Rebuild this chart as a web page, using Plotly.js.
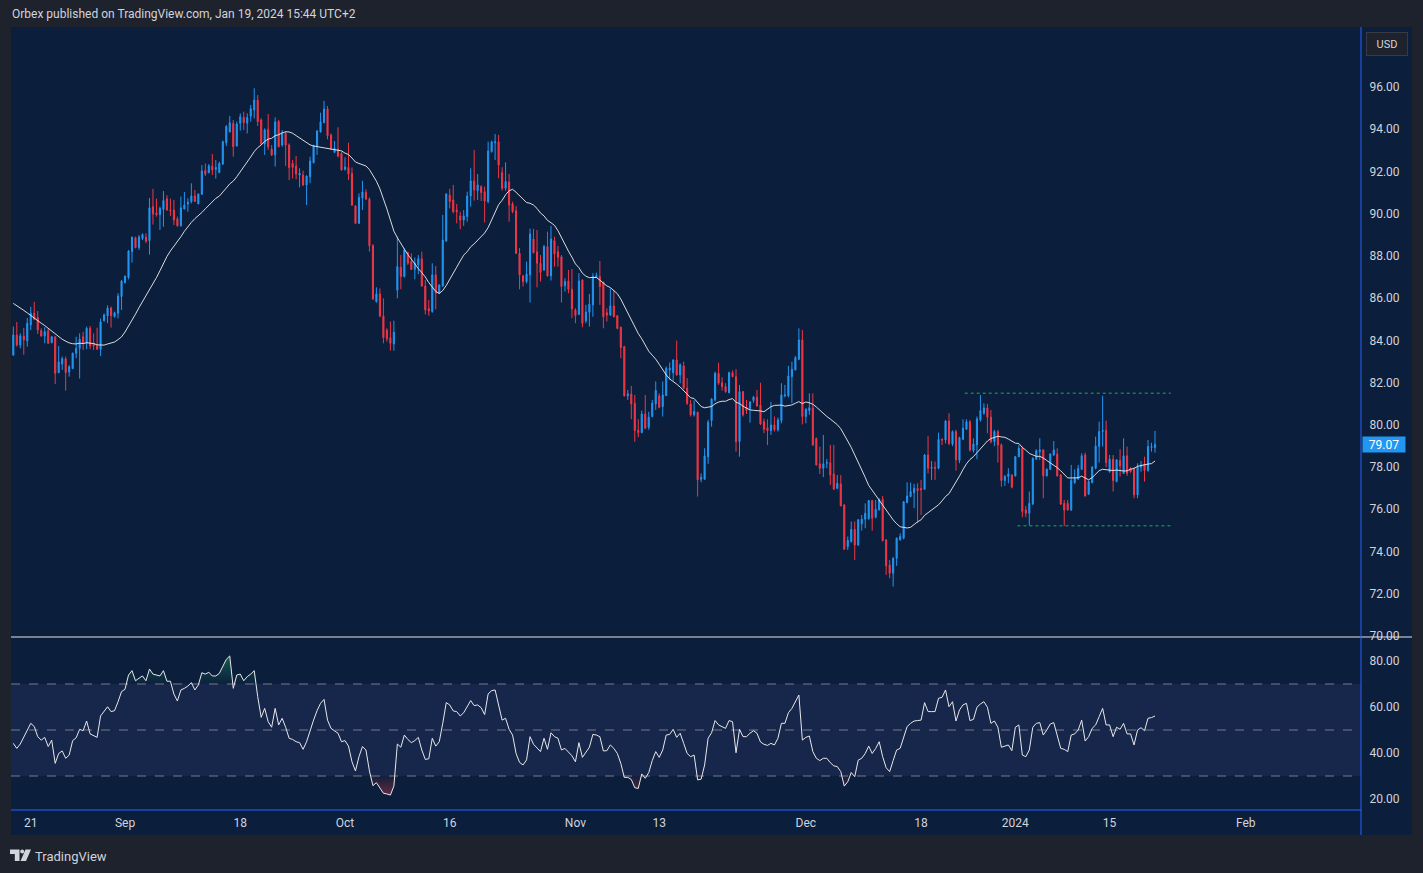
<!DOCTYPE html>
<html><head><meta charset="utf-8">
<script src="https://cdn.plot.ly/plotly-3.0.1.min.js"></script>
<style>html,body{margin:0;padding:0;background:#1e222d;overflow:hidden}#chart{width:1423px;height:873px}</style>
</head><body><div id="chart"></div>
<script>
// ---- data (8h candles, index 0 = first visible candle) ----
const openP = [
83.31,84.25,83.78,84.21,83.97,84.73,85.28,85.08,84.46,84.21,
84.46,83.89,84.17,82.47,82.88,83.13,82.50,82.66,83.39,83.62,
84.17,83.86,84.57,83.86,83.75,83.58,84.93,85.15,85.53,85.12,
85.28,86.07,86.73,86.98,88.20,88.86,88.39,88.82,88.89,88.72,
90.33,90.03,89.95,90.20,90.71,90.17,90.17,89.75,89.43,90.22,
90.46,90.57,90.84,90.46,90.92,92.04,91.94,92.26,92.10,91.94,
92.35,93.36,93.88,94.28,93.20,94.28,94.56,94.28,94.62,94.91,
95.38,94.44,93.30,93.99,93.06,92.78,94.37,93.25,93.80,93.25,
92.38,92.26,91.83,91.83,91.36,91.75,92.41,93.17,93.87,94.31,
94.96,93.72,92.90,93.06,92.86,92.10,92.19,91.91,90.36,89.54,
90.74,91.01,90.69,88.48,85.83,86.20,85.15,84.49,84.13,83.83,
86.38,87.46,87.02,88.15,87.73,87.36,87.57,87.86,86.57,85.50,
85.36,87.10,86.23,86.57,88.70,90.88,90.65,90.17,89.89,89.70,
89.86,90.84,91.55,91.09,91.28,91.04,90.57,92.94,93.36,93.40,
91.94,91.20,91.50,90.46,90.14,88.12,87.05,86.78,87.10,88.80,
88.19,87.65,87.33,88.44,87.05,88.72,88.20,87.96,86.59,86.81,
86.42,85.44,85.23,86.86,84.92,85.33,85.68,86.97,87.02,86.75,
85.31,85.20,85.63,85.16,84.62,83.70,81.37,81.46,81.02,79.73,
79.63,80.51,79.88,80.39,80.99,81.37,80.86,81.38,82.60,82.47,
83.07,82.36,82.79,81.73,80.99,80.47,80.59,77.42,77.42,78.49,
80.20,81.18,82.44,81.99,81.81,81.52,82.47,82.28,79.20,81.57,
80.83,80.78,81.15,81.31,80.94,80.15,79.86,79.72,79.99,79.76,
80.20,81.37,81.37,82.28,82.60,83.10,84.02,80.39,80.67,80.81,
79.36,78.15,77.94,78.18,78.21,77.67,76.99,77.20,76.20,74.23,
74.47,75.05,74.31,75.31,75.53,75.55,76.41,75.62,75.97,76.47,
74.55,73.36,72.97,73.68,74.55,74.63,76.32,76.60,76.79,76.99,
76.99,76.95,78.57,77.94,77.99,77.94,79.31,79.28,80.18,79.09,
79.68,78.31,79.31,79.79,80.15,78.78,79.05,80.23,80.55,80.80,
80.36,79.20,79.68,79.05,77.36,77.55,77.62,77.58,78.49,78.89,
75.97,75.81,76.25,78.37,78.73,78.81,77.58,77.89,78.57,78.62,
77.62,76.28,76.28,75.97,77.26,77.44,77.89,78.57,76.72,77.26,
77.94,78.97,79.68,79.73,77.78,78.37,77.31,78.31,77.70,78.53,
77.94,77.89,76.68,77.99,78.15,77.83,78.92,78.92];
const highP = [
84.65,84.87,84.33,84.59,85.06,85.59,85.82,85.39,84.57,84.62,
84.57,84.21,84.17,83.73,83.23,83.23,82.83,83.42,84.17,84.33,
84.40,84.65,84.68,84.33,84.60,85.03,85.28,85.66,85.60,85.36,
86.23,86.86,87.05,88.28,88.91,88.91,88.99,89.07,89.07,90.74,
91.18,90.71,90.33,91.07,90.87,90.71,90.65,89.86,90.81,91.03,
90.73,91.44,91.12,90.96,92.30,92.38,92.35,92.83,92.54,92.46,
93.46,94.20,94.63,94.44,94.36,94.75,94.83,94.75,95.15,95.94,
95.62,94.51,94.04,94.72,93.25,94.56,94.44,93.96,93.88,93.33,
92.54,92.73,92.15,92.04,91.81,92.70,93.25,93.96,94.78,95.34,
95.10,93.80,93.44,94.09,92.94,92.67,93.36,92.19,90.41,90.96,
91.56,91.15,90.77,88.56,86.51,86.46,85.99,84.57,84.89,84.93,
88.91,88.04,88.36,88.20,88.12,87.92,88.04,88.20,86.86,85.91,
87.65,87.52,86.65,89.94,90.96,91.18,91.36,90.46,90.09,90.17,
91.04,92.15,93.02,91.88,91.34,91.28,93.41,93.46,93.77,93.73,
92.20,92.43,91.88,90.57,90.36,88.37,87.10,87.73,89.29,89.28,
89.23,88.04,88.52,89.15,89.42,88.91,88.47,88.04,86.94,87.33,
87.38,85.52,87.18,86.89,85.68,86.20,87.18,87.21,87.76,86.78,
85.52,86.46,86.39,85.20,84.65,83.74,81.65,81.84,81.41,80.26,
80.67,81.41,80.62,81.18,82.05,81.49,82.05,82.76,82.95,83.10,
83.99,82.91,82.99,82.21,81.18,81.15,80.63,77.70,78.89,80.23,
81.26,82.52,82.94,82.25,81.97,82.52,82.57,82.63,81.89,81.60,
81.18,81.12,81.37,81.65,81.99,80.29,80.26,81.08,80.39,80.34,
81.97,81.89,82.79,82.99,83.26,84.57,84.49,80.78,81.49,81.49,
79.39,78.97,79.52,78.38,79.05,79.05,77.62,77.62,76.24,74.71,
75.42,75.42,75.53,75.73,76.28,76.44,76.44,76.44,76.52,76.63,
74.58,73.60,73.73,74.66,74.86,76.39,77.28,77.26,77.20,77.23,
77.39,78.62,79.47,78.29,78.26,79.63,79.36,80.23,80.55,79.73,
79.76,79.44,80.26,80.26,80.23,79.36,80.39,81.41,81.02,80.99,
80.70,79.76,79.76,79.12,77.62,77.94,77.66,78.52,79.05,78.97,
76.16,76.84,78.46,78.84,79.36,78.84,77.94,78.65,79.23,78.89,
77.67,76.44,76.44,78.10,77.89,78.10,78.65,78.68,77.36,78.05,
79.44,80.15,81.37,80.20,78.57,78.57,78.37,78.84,79.36,78.97,
77.99,77.99,78.18,78.29,78.49,79.28,79.15,79.71];
const lowP = [
83.26,83.70,83.62,83.32,83.70,84.49,84.96,84.30,84.17,83.86,
83.83,83.86,81.93,82.44,82.60,81.62,82.28,82.66,83.15,82.19,
83.54,83.58,83.58,83.54,83.54,83.26,84.89,84.81,84.60,85.09,
85.04,85.44,86.70,86.89,87.68,88.36,88.28,88.75,88.60,88.06,
89.48,89.86,89.23,89.38,90.14,89.89,89.46,89.38,89.38,90.20,
90.09,90.49,90.55,90.46,90.88,91.78,91.91,91.83,91.66,91.94,
92.30,93.20,93.84,92.70,93.20,93.93,93.96,93.80,94.36,94.51,
94.15,93.25,92.78,93.02,92.73,92.23,93.14,93.17,92.26,91.59,
91.67,91.63,91.25,91.31,90.41,91.44,92.38,92.78,93.84,94.28,
93.52,93.01,92.89,92.67,92.04,92.04,91.59,90.36,89.51,89.51,
90.17,90.65,88.20,85.91,85.79,85.09,83.86,83.94,83.51,83.51,
85.99,86.42,86.98,87.57,87.33,86.89,87.13,86.54,85.23,85.17,
85.31,85.47,86.20,86.54,88.67,90.25,90.02,89.54,89.26,89.42,
89.62,90.33,90.62,90.65,90.60,89.58,90.49,92.89,92.54,91.68,
91.09,91.09,89.62,90.02,88.09,86.42,86.55,86.70,85.79,88.12,
86.51,86.78,87.30,87.02,86.83,87.49,87.49,85.79,86.31,86.23,
85.05,84.81,85.20,84.62,84.81,84.65,85.12,86.95,85.68,84.57,
84.89,85.16,85.09,84.52,83.15,81.34,81.18,80.26,79.20,79.41,
79.60,79.79,79.76,80.36,80.70,80.78,80.39,81.37,82.13,82.09,
82.33,81.97,81.68,80.94,80.39,80.39,76.60,77.28,77.39,78.15,
79.91,81.10,81.89,81.62,81.52,81.49,82.25,78.73,78.49,80.39,
80.51,80.10,81.05,80.86,79.99,79.60,79.04,79.52,79.68,79.68,
80.07,81.30,81.30,81.02,82.57,83.07,80.02,80.07,80.47,79.00,
78.07,77.67,77.52,77.94,77.15,76.92,76.95,76.13,74.07,74.07,
74.42,73.60,74.26,74.99,75.10,75.50,74.99,75.57,75.94,74.47,
72.89,72.73,72.34,73.32,74.52,74.58,76.28,76.57,76.05,75.34,
75.73,76.92,77.70,77.39,77.39,77.89,79.04,79.12,79.04,78.99,
77.83,78.18,79.28,79.76,78.73,78.68,78.37,80.15,80.47,79.60,
79.12,78.99,78.21,77.07,77.10,77.23,76.99,77.55,78.46,75.62,
75.62,75.21,76.20,78.34,78.34,76.52,77.55,77.86,78.53,77.55,
76.20,75.21,75.94,75.92,77.20,77.39,77.86,76.60,76.68,77.23,
77.89,78.21,78.97,77.99,77.73,76.84,77.28,77.55,77.67,77.58,
77.73,76.52,76.52,77.78,77.31,77.78,78.73,78.68];
const closeP = [
84.25,83.78,84.21,84.02,84.81,85.28,85.00,84.49,84.21,84.41,
83.86,84.17,82.44,82.98,83.13,82.47,82.75,83.39,83.62,84.05,
83.86,84.57,83.73,83.73,83.58,84.87,85.20,85.53,85.17,85.31,
86.10,86.81,87.05,88.23,88.89,88.39,88.89,89.01,88.69,90.28,
89.98,89.95,90.25,90.62,90.17,90.14,89.70,89.43,90.28,90.41,
90.54,90.84,90.58,90.93,92.02,91.88,92.26,92.07,92.18,92.38,
93.41,94.12,94.31,93.17,94.25,94.59,94.31,94.55,94.97,95.38,
94.36,93.30,93.96,93.17,92.78,94.34,93.17,93.80,93.25,92.18,
92.19,91.88,91.91,91.36,91.78,92.49,93.24,93.91,94.34,94.96,
93.69,93.09,93.09,92.73,92.07,92.21,91.88,90.41,89.54,90.77,
91.03,90.69,88.48,85.96,86.20,85.15,84.13,84.08,83.86,84.38,
87.49,87.02,88.28,87.65,87.36,87.65,87.86,86.57,85.44,85.39,
87.10,86.23,86.62,88.75,90.93,90.57,90.09,90.09,89.70,89.89,
90.84,91.55,91.12,91.36,91.00,90.60,92.97,93.40,93.40,92.31,
91.20,91.52,90.41,90.10,88.12,87.10,86.78,87.14,89.04,88.15,
87.65,87.21,88.44,87.05,88.80,88.09,87.93,86.55,86.78,86.42,
85.49,85.17,86.81,84.81,85.34,85.71,87.02,87.07,86.55,85.12,
85.20,85.63,85.12,84.57,83.66,81.37,81.46,80.99,79.73,79.63,
80.51,79.84,80.36,81.02,81.62,80.83,81.41,82.68,82.68,83.07,
82.36,82.84,81.73,81.02,80.47,80.63,77.39,77.51,78.52,80.12,
81.22,82.44,81.97,81.81,81.57,82.47,82.28,79.20,81.57,80.47,
80.67,81.08,81.31,80.89,80.04,79.79,79.72,79.99,79.76,80.23,
81.41,81.41,82.31,82.63,83.18,84.02,80.39,80.74,80.81,79.05,
78.10,77.94,78.15,78.21,77.62,76.95,77.23,76.17,74.11,74.52,
75.05,74.31,75.50,75.53,75.81,76.41,75.57,76.00,76.44,74.52,
73.32,72.97,73.68,74.63,74.71,76.36,76.63,76.84,76.99,76.88,
76.92,78.57,77.94,77.99,77.94,79.31,79.28,80.18,79.12,79.68,
78.34,79.39,79.84,80.15,78.81,79.09,80.28,80.67,80.80,80.36,
79.20,79.68,79.05,77.36,77.55,77.67,77.04,78.49,78.89,75.89,
75.81,76.28,78.41,78.78,78.81,77.58,77.89,78.62,78.81,77.58,
76.25,75.97,75.97,77.36,77.47,77.94,78.53,76.63,77.31,77.99,
78.99,79.68,79.73,78.21,78.37,77.36,78.34,78.05,78.53,77.70,
77.78,76.68,78.02,78.10,77.83,78.97,78.97,79.07];
// RSI(14) read per candle
const rsiP = [
44.2,42.0,43.9,47.1,50.0,52.9,51.5,47.1,45.6,46.8,
42.8,45.6,35.5,39.8,40.9,37.7,39.1,45.4,46.6,50.3,
49.7,53.9,48.3,47.4,46.8,56.1,58.0,60.1,58.0,58.4,
62.3,66.7,67.7,73.9,75.8,71.4,72.5,73.5,71.4,76.5,
74.3,73.9,73.5,75.8,71.2,71.2,65.6,62.6,67.4,68.1,
69.1,70.6,67.4,69.6,74.9,74.3,75.1,73.5,73.5,74.6,
77.5,80.7,82.2,68.1,73.9,74.3,71.4,73.2,74.3,75.8,
64.5,55.5,59.4,53.6,51.2,59.4,52.2,55.1,51.2,46.4,
45.9,44.9,44.5,41.6,44.9,50.0,54.3,58.4,61.6,63.3,
54.3,50.7,49.7,48.6,44.9,45.4,43.0,36.2,32.2,38.4,
42.8,41.3,32.2,25.8,27.1,24.6,22.5,22.2,21.7,25.6,
43.9,42.5,47.8,45.9,44.5,45.4,46.8,41.3,37.2,37.5,
46.4,43.0,44.9,52.9,61.9,60.9,58.3,58.0,56.1,57.5,
60.1,62.8,60.6,60.9,59.7,56.7,65.7,67.1,67.4,60.4,
54.3,55.1,50.3,47.8,39.8,35.9,34.8,37.0,47.1,43.8,
42.0,40.6,46.4,41.6,48.8,47.1,46.4,41.3,42.0,40.6,
38.8,36.2,44.5,38.1,40.6,42.5,48.1,47.8,47.1,40.9,
41.0,43.5,42.0,39.8,35.5,29.4,29.4,28.5,24.9,24.6,
30.9,29.0,31.5,36.7,40.6,38.1,41.3,47.8,48.1,50.3,
46.8,48.6,44.2,39.8,38.4,39.1,28.3,28.6,34.8,46.4,
48.8,54.1,52.2,51.5,50.7,54.1,53.6,40.1,50.3,47.1,
47.1,48.6,49.7,48.6,44.8,43.8,43.3,44.2,43.5,46.4,
52.9,52.9,57.5,59.4,62.3,65.2,45.6,46.8,47.4,40.6,
37.7,36.7,37.7,37.7,35.8,34.4,34.1,31.9,25.6,27.5,
31.5,29.7,36.9,37.7,39.8,43.0,39.8,42.0,44.9,38.4,
33.6,31.9,36.7,41.3,42.0,47.1,51.5,52.9,53.9,54.1,
54.3,61.9,58.0,58.0,58.0,63.8,64.2,67.4,60.1,62.3,
53.9,58.7,60.9,61.6,54.1,54.6,59.9,61.3,62.3,59.9,
52.9,53.9,51.2,42.5,43.0,43.5,41.0,51.2,52.2,39.1,
38.4,41.3,51.2,52.9,53.2,47.8,50.0,52.6,53.2,47.1,
42.0,41.6,40.6,47.8,48.3,50.0,54.3,45.2,47.1,50.7,
52.2,55.8,59.4,52.2,52.2,47.1,51.2,50.3,52.9,48.3,
48.3,43.5,50.0,51.0,49.7,55.1,55.4,56.1];
// moving average values read for the first candles (before 20 closes are available)
const maHead = [85.75,85.65,85.55,85.42,85.30,85.17,85.04,84.93,84.81,84.70,84.57,84.45,84.30,84.18,84.05,83.96,83.88,83.84,83.83];
const maPeriod = 20;

const xTickIdx = [5, 32, 65, 95, 125, 161, 185, 227, 260, 287, 314, 353];
const xTickLabels = ['21','Sep','18','Oct','16','Nov','13','Dec','18','2024','15','Feb'];
const priceTicks = [70,72,74,76,78,80,82,84,86,88,90,92,94,96];
const rsiTicks = [20,40,60,80];
const rsiLevels = [70,50,30];
const rangeLevels = [81.49, 75.22];
const rangeStart = [272.5, 287.6];
const rangeEnd = [331.5, 331.5];

// ---- build ----
const idx = closeP.map((_, i) => i);
const ma = closeP.map((c, i) => i < maHead.length ? maHead[i]
  : closeP.slice(i - maPeriod + 1, i + 1).reduce((a, b) => a + b, 0) / maPeriod);

const L = 11, R = 1361, T = 27, B = 810;
const px = x => (x - L) / (R - L);
const py = y => (B - y) / (B - T);
const path = pts => 'M' + pts.map(p => px(p[0]).toFixed(5) + ',' + py(p[1]).toFixed(5)).join(' L') + ' Z';

const UP = '#2196f3', DN = '#f23645', TXT = '#d1d4dc';
const font = {family: 'Roboto, "Noto Sans", sans-serif', size: 12, color: TXT};

const traces = [
  {type: 'candlestick', x: idx, open: openP, high: highP, low: lowP, close: closeP,
   xaxis: 'x', yaxis: 'y', whiskerwidth: 0, hoverinfo: 'skip',
   increasing: {line: {color: UP, width: 1}, fillcolor: UP},
   decreasing: {line: {color: DN, width: 1}, fillcolor: DN}},
  {type: 'scatter', mode: 'lines', x: idx, y: ma, xaxis: 'x', yaxis: 'y',
   line: {color: 'rgba(240,240,240,0.9)', width: 1}, hoverinfo: 'skip'}
];
rangeLevels.forEach((v, k) => traces.push({type: 'scatter', mode: 'lines',
  x: [rangeStart[k], rangeEnd[k]], y: [v, v], xaxis: 'x', yaxis: 'y',
  line: {color: '#12804f', width: 1.5, dash: 'dot'}, hoverinfo: 'skip'}));
// overbought / oversold gradient fills
traces.push({type: 'scatter', mode: 'lines', x: idx, y: idx.map(() => 70), xaxis: 'x', yaxis: 'y2', line: {width: 0}, hoverinfo: 'skip'});
traces.push({type: 'scatter', mode: 'lines', x: idx, y: rsiP.map(v => Math.max(v, 70)), xaxis: 'x', yaxis: 'y2', line: {width: 0}, fill: 'tonexty',
  fillcolor: 'rgba(30,130,90,0.25)',
  fillgradient: {type: 'vertical', start: 70, stop: 83, colorscale: [[0, 'rgba(20,110,80,0.05)'], [1, 'rgba(40,160,110,0.55)']]},
  hoverinfo: 'skip'});
traces.push({type: 'scatter', mode: 'lines', x: idx, y: idx.map(() => 30), xaxis: 'x', yaxis: 'y2', line: {width: 0}, hoverinfo: 'skip'});
traces.push({type: 'scatter', mode: 'lines', x: idx, y: rsiP.map(v => Math.min(v, 30)), xaxis: 'x', yaxis: 'y2', line: {width: 0}, fill: 'tonexty',
  fillcolor: 'rgba(242,54,69,0.2)',
  fillgradient: {type: 'vertical', start: 30, stop: 20, colorscale: [[0, 'rgba(200,50,70,0.05)'], [1, 'rgba(230,60,80,0.5)']]},
  hoverinfo: 'skip'});
traces.push({type: 'scatter', mode: 'lines', x: idx, y: rsiP, xaxis: 'x', yaxis: 'y2',
  line: {color: '#e8e8e8', width: 1}, hoverinfo: 'skip'});

const split = py(637);
const shapes = [
  {type: 'rect', xref: 'paper', yref: 'paper', x0: px(11), x1: px(1412), y0: py(835), y1: py(27), fillcolor: '#0b1e3b', line: {width: 0}, layer: 'below'},
  {type: 'rect', xref: 'paper', yref: 'y2', x0: 0, x1: 1, y0: 30, y1: 70, fillcolor: '#17264b', line: {width: 0}, layer: 'below'}
];
rsiLevels.forEach(v => shapes.push({type: 'line', xref: 'paper', yref: 'y2', x0: 0, x1: 1, y0: v, y1: v,
  line: {color: '#787b86', width: 1, dash: 'dash'}, layer: 'below'}));
shapes.push({type: 'line', xref: 'paper', yref: 'paper', x0: px(11), x1: px(1412), y0: split, y1: split, line: {color: '#e6e6e6', width: 1}});
shapes.push({type: 'line', xref: 'paper', yref: 'paper', x0: 1, x1: 1, y0: py(835), y1: 1, line: {color: '#2962ff', width: 1}});
shapes.push({type: 'line', xref: 'paper', yref: 'paper', x0: 0, x1: 1, y0: 0, y1: 0, line: {color: '#2962ff', width: 1}});
// TradingView logo
shapes.push({type: 'path', xref: 'paper', yref: 'paper', path: path([[10,849.5],[19.5,849.5],[19.5,861],[14.8,861],[14.8,854],[10,854]]), fillcolor: TXT, line: {width: 0}});
shapes.push({type: 'circle', xref: 'paper', yref: 'paper', x0: px(20.2), x1: px(24.2), y0: py(849.5), y1: py(853.5), fillcolor: TXT, line: {width: 0}});
shapes.push({type: 'path', xref: 'paper', yref: 'paper', path: path([[25.5,849.5],[31,849.5],[26,861],[20.5,861]]), fillcolor: TXT, line: {width: 0}});

const annotations = [
  {xref: 'paper', yref: 'paper', x: px(10), y: py(14), xanchor: 'left', yanchor: 'middle', showarrow: false,
   text: 'Orbex published on TradingView.com, Jan 19, 2024 15:44 UTC+2', font: {family: font.family, size: 12, color: TXT}},
  {xref: 'paper', yref: 'paper', x: px(33), y: py(856), xanchor: 'left', yanchor: 'middle', showarrow: false,
   text: 'TradingView', font: {family: font.family, size: 13, color: TXT}},
  {xref: 'paper', yref: 'paper', x: px(1387), y: py(44), xanchor: 'center', yanchor: 'middle', showarrow: false,
   text: 'USD', width: 34, height: 16, bgcolor: '#1e222d', bordercolor: '#363a45', borderwidth: 1, borderpad: 3,
   font: {family: font.family, size: 11, color: TXT}},
  {xref: 'paper', yref: 'y', x: px(1362), y: closeP[closeP.length - 1], xanchor: 'left', yanchor: 'middle', showarrow: false,
   text: closeP[closeP.length - 1].toFixed(2), width: 40, height: 13, bgcolor: UP, borderpad: 1,
   font: {family: font.family, size: 12, color: '#ffffff'}}
];

const layout = {
  width: 1423, height: 873,
  margin: {l: L, r: 1423 - R, t: T, b: 873 - B, pad: 0},
  paper_bgcolor: '#1e222d', plot_bgcolor: 'rgba(0,0,0,0)',
  showlegend: false, hovermode: false, dragmode: false, boxgap: 0.55,
  xaxis: {range: [-0.66, 386.0], anchor: 'y2', tickmode: 'array', tickvals: xTickIdx, ticktext: xTickLabels,
    showgrid: false, zeroline: false, showline: false, ticks: 'outside', ticklen: 2, tickcolor: 'rgba(0,0,0,0)',
    tickfont: font, rangeslider: {visible: false}, fixedrange: true},
  yaxis: {domain: [py(637), 1], range: [69.95, 98.84], side: 'right', anchor: 'x', tickmode: 'array',
    tickvals: priceTicks, ticktext: priceTicks.map(v => v.toFixed(2)), showgrid: false, zeroline: false,
    showline: false, ticks: 'outside', ticklen: 5, tickcolor: 'rgba(0,0,0,0)', tickfont: font, fixedrange: true},
  yaxis2: {domain: [0, py(637)], range: [15.22, 90.43], side: 'right', anchor: 'x', tickmode: 'array',
    tickvals: rsiTicks, ticktext: rsiTicks.map(v => v.toFixed(2)), showgrid: false, zeroline: false,
    showline: false, ticks: 'outside', ticklen: 5, tickcolor: 'rgba(0,0,0,0)', tickfont: font, fixedrange: true},
  shapes: shapes, annotations: annotations
};

Plotly.newPlot('chart', traces, layout, {displayModeBar: false, staticPlot: true});
</script>
</body></html>
